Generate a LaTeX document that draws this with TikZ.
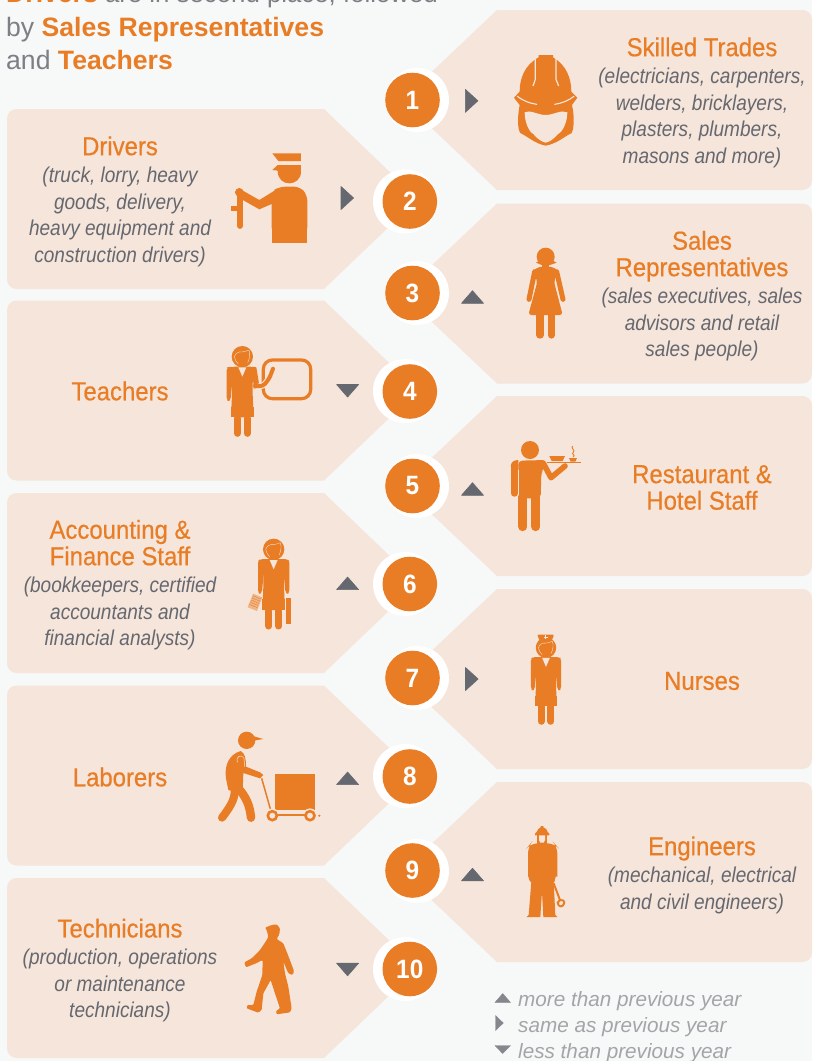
\documentclass[tikz,border=0pt]{standalone}
\usepackage{fontspec}
\setmainfont{Liberation Sans}
\newfontfamily\condt[FakeStretch=0.92,FakeBold=0.5]{Liberation Sans}
\newfontfamily\conds[FakeStretch=0.885]{Liberation Sans}
\newfontfamily\condn[FakeStretch=0.92]{Liberation Sans}
\definecolor{bgc}{HTML}{F7F8F8}
\definecolor{panelc}{HTML}{F5E5DA}
\definecolor{orangec}{HTML}{E97D25}
\definecolor{grayc}{HTML}{666870}
\definecolor{leggray}{HTML}{A3A5A8}
\definecolor{legtri}{HTML}{85878C}
\newcommand{\tl}[1]{{\condt\fontsize{26}{26.5}\selectfont #1}}
\newcommand{\sbl}[1]{{\conds\color{grayc}\itshape\fontsize{21.5}{26.5}\selectfont #1}}
\newcommand{\rpanel}[1]{\fill[panelc] (402,#1+90) -- (497,#1) -- (802,#1) .. controls (808,#1) and (812,#1+4) .. (812,#1+10) -- (812,#1+170) .. controls (812,#1+176) and (808,#1+180) .. (802,#1+180) -- (497,#1+180) -- cycle;}
\newcommand{\lpanel}[1]{\fill[panelc] (418,#1+90) -- (324,#1) -- (17,#1) .. controls (11,#1) and (7,#1+4) .. (7,#1+10) -- (7,#1+170) .. controls (7,#1+176) and (11,#1+180) .. (17,#1+180) -- (324,#1+180) -- cycle;}
\newcommand{\triup}[3][grayc]{\fill[#1,draw=#1,line width=.6pt,line join=round] (#2-11,#3+6.3) -- (#2+11,#3+6.3) -- (#2,#3-6.3) -- cycle;}
\newcommand{\tridn}[3][grayc]{\fill[#1,draw=#1,line width=.6pt,line join=round] (#2-11,#3-6.3) -- (#2+11,#3-6.3) -- (#2,#3+6.3) -- cycle;}
\newcommand{\trirt}[3][grayc]{\fill[#1,draw=#1,line width=.6pt,line join=round] (#2-6.3,#3-11.5) -- (#2-6.3,#3+11.5) -- (#2+6.3,#3) -- cycle;}
% woman without arms; origin = head centre, units = 1/3 px
\newcommand{\womanbody}{%
  \fill[orangec] (0,0) circle (32);
  \draw[panelc,line width=.35pt] (-24,0) .. controls (-20,-12) and (-8,-16) .. (-2,-14) .. controls (6,-14) and (14,-18) .. (20,-20) .. controls (24,-8) and (22,6) .. (16,18);
  \draw[panelc,line width=.35pt] (-24,0) .. controls (-22,10) and (-18,16) .. (-12,22);
  \fill[orangec,rounded corners=4pt] (-36,30) -- (36,30) -- (30,90) -- (34,182) -- (-34,182) -- (-30,90) -- cycle;
  \fill[orangec] (-36,30) rectangle (36,50);
  \fill[orangec] (-34,150) rectangle (34,182);
  \draw[orangec,line width=7pt,line cap=round] (-15,185) -- (-15,230);
  \draw[orangec,line width=7pt,line cap=round] (15,185) -- (15,230);
  \fill[panelc] (-12,32) -- (12,32) -- (0,60) -- cycle;
}
\newcommand{\armleft}{\fill[orangec,rounded corners=2pt] (-47,34) -- (-47,128) -- (-42,136) -- (-35,128) -- (-28,50) -- (-30,30) -- (-42,30) -- cycle;}
\newcommand{\armright}{\fill[orangec,rounded corners=2pt] (47,34) -- (47,128) -- (42,136) -- (35,128) -- (28,50) -- (30,30) -- (42,30) -- cycle;}
\begin{document}
\begin{tikzpicture}[x=1pt,y=-1pt,
  hdr/.style={anchor=base west,inner sep=0pt,font=\fontsize{26.6}{30}\selectfont,text=grayc!85},
  lbl/.style={align=center,inner sep=0pt,text=orangec,font=\conds\fontsize{25}{26.5}\selectfont},
  wring/.style={circle,fill=white,minimum size=64pt,inner sep=0pt},
  num/.style={circle,fill=orangec,minimum size=54.6pt,inner sep=0pt,text=white,font=\condn\bfseries\fontsize{26.5}{27}\selectfont},
  leg/.style={anchor=base west,inner sep=0pt,text=leggray,font=\itshape\fontsize{20.7}{24}\selectfont},
  ic/.style={scale=1/3}]
\clip (0,0) rectangle (812,1061);
\fill[bgc] (0,0) rectangle (812,1061);
% header
\node[hdr] (h1) at (6,2.5) {\textcolor{orangec}{\bfseries Drivers}{\fontsize{25.8}{30}\selectfont\ are in second place, followed}};
\node[hdr] (h2) at (6,36) {by \textcolor{orangec}{\bfseries Sales Representatives}};
\node[hdr] (h3) at (6,69.5) {and \textcolor{orangec}{\bfseries Teachers}};
% panels
\rpanel{10}\rpanel{203.5}\rpanel{396}\rpanel{589}\rpanel{782}
\lpanel{109}\lpanel{300.5}\lpanel{493}\lpanel{685.5}\lpanel{878}
% circles
\node[wring] (w1) at (417,100) {};
\node[wring] (w3) at (417,293) {};
\node[wring] (w5) at (417,486) {};
\node[wring] (w7) at (417,678) {};
\node[wring] (w9) at (417,871) {};
\node[wring] (w2) at (405,201.5) {};
\node[wring] (w4) at (405,391) {};
\node[wring] (w6) at (405,584) {};
\node[wring] (w8) at (405,776) {};
\node[wring] (w10) at (405,969) {};
\node[num] (n1) at (412.5,100) {1};
\node[num] (n3) at (412.5,293) {3};
\node[num] (n5) at (412.5,486) {5};
\node[num] (n7) at (412.5,678) {7};
\node[num] (n9) at (412.5,870.5) {9};
\node[num] (n2) at (409.8,201.5) {2};
\node[num] (n4) at (409.8,391.5) {4};
\node[num] (n6) at (409.8,584) {6};
\node[num] (n8) at (409.8,776.5) {8};
\node[num] (n10) at (409.8,969) {10};
% trend triangles
\trirt{471.6}{100.8}
\trirt{347.3}{198}
\triup{472.5}{297}
\tridn{347.6}{390.8}
\triup{472.5}{489}
\triup{347.6}{583.3}
\trirt{471.8}{679}
\triup{347.6}{778.3}
\triup{472.5}{874.5}
\tridn{347.6}{969.5}
% labels
\node[lbl] (t1) at (702,102.5) {\tl{Skilled Trades}\\[1pt]\sbl{(electricians, carpenters,}\\\sbl{welders, bricklayers,}\\\sbl{plasters, plumbers,}\\\sbl{masons and more)}};
\node[lbl] (t2) at (120,201.5) {\tl{Drivers}\\[1pt]\sbl{(truck, lorry, heavy}\\\sbl{goods, delivery,}\\\sbl{heavy equipment and}\\\sbl{construction drivers)}};
\node[lbl] (t3) at (702,296) {\tl{Sales}\\\tl{Representatives}\\[1pt]\sbl{(sales executives, sales}\\\sbl{advisors and retail}\\\sbl{sales people)}};
\node[lbl] (t4) at (120,391) {\tl{Teachers}};
\node[lbl] (t5) at (702,487.5) {\tl{Restaurant \&}\\\tl{Hotel Staff}};
\node[lbl] (t6) at (120,585) {\tl{Accounting \&}\\\tl{Finance Staff}\\[1pt]\sbl{(bookkeepers, certified}\\\sbl{accountants and}\\\sbl{financial analysts)}};
\node[lbl] (t7) at (702,681) {\tl{Nurses}};
\node[lbl] (t8) at (120,777) {\tl{Laborers}};
\node[lbl] (t9) at (702,875) {\tl{Engineers}\\[1pt]\sbl{(mechanical, electrical}\\\sbl{and civil engineers)}};
\node[lbl] (t10) at (120,970.5) {\tl{Technicians}\\[1pt]\sbl{(production, operations}\\\sbl{or maintenance}\\\sbl{technicians)}};
% legend
\fill[legtri,draw=legtri,line width=.4pt,line join=round] (495,1002.5) -- (510.5,1002.5) -- (502.7,993.5) -- cycle;
\fill[legtri,draw=legtri,line width=.4pt,line join=round] (495.5,1015.5) -- (495.5,1030.5) -- (503.3,1023) -- cycle;
\fill[legtri,draw=legtri,line width=.4pt,line join=round] (495,1045.5) -- (510.5,1045.5) -- (502.7,1053.5) -- cycle;
\node[leg] (l1) at (518,1006) {more than previous year};
\node[leg] (l2) at (518,1032) {same as previous year};
\node[leg] (l3) at (518,1058) {less than previous year};
% ICON skilled trades
\begin{scope}[shift={(508,50)},ic]
  \fill[orangec] (92,15) -- (135,15) -- (135,22) .. controls (175,45) and (190,85) .. (190,125) -- (208,143) -- (192,165) .. controls (200,200) and (198,240) .. (190,250) .. controls (170,258) and (150,280) .. (113,287) .. controls (78,280) and (58,258) .. (38,250) .. controls (28,240) and (28,200) .. (35,165) -- (18,143) -- (35,125) .. controls (35,85) and (50,45) .. (92,22) -- cycle;
  \draw[panelc,line width=1.1pt,line cap=round] (28,139) .. controls (45,152) and (65,160) .. (86,163);
  \draw[panelc,line width=1.1pt,line cap=round] (198,139) .. controls (181,152) and (161,160) .. (140,163);
  \draw[panelc,line width=1.2pt] (82,25) -- (82,88) -- (75,108);
  \draw[panelc,line width=1.2pt] (144,25) -- (144,88) -- (152,108);
  \fill[panelc] (50,187) .. controls (65,178) and (90,195) .. (113,195) .. controls (136,195) and (160,178) .. (178,187) .. controls (178,215) and (165,245) .. (150,252) .. controls (135,270) and (122,276) .. (113,278) .. controls (104,276) and (91,270) .. (76,252) .. controls (62,245) and (50,215) .. (50,187) -- cycle;
\end{scope}
% ICON driver
\begin{scope}[ic]
  \fill[orangec] (817,460) -- (903,460) -- (903,483) -- (835,483) -- cycle;
  \fill[orangec] (817,510) -- (833,495) -- (903,495) -- (903,515) .. controls (903,538) and (885,550) .. (868,550) .. controls (850,550) and (833,538) .. (833,512) -- cycle;
  \fill[orangec,rounded corners=6pt] (815,700) -- (815,575) -- (838,560) -- (900,560) -- (922,585) -- (922,700) -- cycle;
  \fill[orangec] (815,690) rectangle (922,730);
  \fill[orangec] (725,570) -- (778,600) -- (830,568) -- (830,625) -- (815,612) -- (778,628) -- (725,598) -- cycle;
  \fill[orangec] (718,577) circle (13);
  \draw[orangec,line width=6.5pt,line cap=round] (720,585) -- (720,677);
  \draw[orangec,line width=5pt] (694,625) -- (722,625);
\end{scope}
% ICON teacher
\begin{scope}[shift={(200,320)},ic]
  \draw[orangec,line width=3.2pt,rounded corners=9pt] (190,120) rectangle (332,236);
  \begin{scope}[shift={(127,110)}]
    \womanbody
    \armleft
    \fill[orangec] (30,30) -- (42,32) -- (52,92) -- (34,96) -- cycle;
  \end{scope}
  \draw[panelc,line width=6.2pt,line cap=round,rounded corners=3pt] (180,198) -- (190,198) -- (208,175) -- (219,146);
  \draw[orangec,line width=4pt,line cap=round,rounded corners=3pt] (165,198) -- (190,198) -- (208,175) -- (219,146);
\end{scope}
% ICON accountant
\begin{scope}[shift={(200,530)},ic]
  \begin{scope}[shift={(221,58)}]
    \womanbody
    \armleft
    \armright
  \end{scope}
  \fill[orangec] (257,205) rectangle (272,283);
  \begin{scope}[shift={(165,217)},rotate=-22]
    \fill[orangec!45!panelc] (-15,-22) rectangle (15,22);
    \foreach \yy in {-16,-9,...,16} {\draw[orangec,line width=.6pt,dash pattern=on 1.2pt off .6pt] (-13,\yy) -- (13,\yy);}
  \end{scope}
\end{scope}
% ICON nurse
\begin{scope}[shift={(200,530)},ic]
  \begin{scope}[shift={(1038,353)},scale=.96]
    \womanbody
    \armleft
    \armright
  \end{scope}
  \fill[orangec,rounded corners=1pt] (1012,314) -- (1062,314) -- (1056,331) -- (1018,331) -- cycle;
  \draw[panelc,line width=.6pt] (1031,321) -- (1043,321) (1037,316) -- (1037,326);
\end{scope}
% ICON sales rep
\begin{scope}[shift={(500,240)},ic]
  \fill[orangec] (137,50) circle (27);
  \fill[orangec] (108,68) -- (120,60) -- (155,60) -- (170,68) -- (150,75) -- (125,75) -- cycle;
  \fill[orangec] (126,70) rectangle (148,85);
  \fill[orangec,rounded corners=3pt] (99,92) -- (118,80) -- (156,80) -- (175,92) -- (162,125) -- (188,225) -- (85,225) -- (112,125) -- cycle;
  \draw[orangec,line width=5pt,line cap=round] (104,95) -- (87,178);
  \draw[orangec,line width=5pt,line cap=round] (170,95) -- (189,178);
  \draw[orangec,line width=7.3pt,line cap=round] (120,222) -- (120,285);
  \draw[orangec,line width=7.3pt,line cap=round] (154,222) -- (154,285);
\end{scope}
% ICON waiter
\begin{scope}[shift={(200,320)},ic]
  \fill[orangec] (990,390) circle (27);
  \fill[orangec,rounded corners=4pt] (955,422) -- (1040,420) -- (1024,460) -- (1022,535) -- (955,535) -- cycle;
  \draw[orangec,line width=6.8pt,line cap=round] (943,440) -- (943,520);
  \fill[orangec] (933,435) .. controls (933,425) and (945,420) .. (955,420) -- (955,440) -- (933,440) -- cycle;
  \draw[orangec,line width=5.6pt,line cap=round,line join=round] (1030,430) -- (1053,473) -- (1095,438);
  \draw[panelc,line width=.6pt] (955,450) -- (955,528);
  \draw[orangec,line width=9pt,line cap=round] (969,530) -- (969,620);
  \draw[orangec,line width=9pt,line cap=round] (1008,530) -- (1008,620);
  \fill[orangec] (1048,408) -- (1095,408) -- (1088,423) -- (1055,423) -- cycle;
  \fill[orangec] (1107,414) -- (1131,414) -- (1126,425) -- (1112,425) -- cycle;
  \draw[orangec,line width=1.2pt] (1040,428) -- (1142,428);
  \draw[orangec,line width=.9pt] (1118,378) .. controls (1110,385) and (1128,390) .. (1120,397) .. controls (1112,402) and (1128,405) .. (1120,411);
\end{scope}
% ICON laborer
\begin{scope}[shift={(210,725)},ic]
  \fill[orangec] (110,46) circle (26);
  \fill[orangec] (118,30) -- (160,42) -- (125,48) -- cycle;
  \fill[orangec] (48,160) .. controls (42,120) and (58,88) .. (92,78) .. controls (105,85) and (108,100) .. (108,125) -- (150,142) -- (160,150) -- (150,160) -- (100,144) -- (98,205) -- (55,195) -- cycle;
  \draw[panelc,line width=.5pt] (82,112) .. controls (75,95) and (95,85) .. (102,100) -- (104,125);
  \draw[orangec,line width=8pt,line cap=round] (72,180) .. controls (80,215) and (65,240) .. (36,278);
  \draw[orangec,line width=8.5pt,line cap=round] (80,185) .. controls (110,215) and (120,245) .. (123,278);
  \draw[orangec,line width=1.5pt] (155,160) -- (182,255);
  \fill[orangec] (196,146) rectangle (316,256);
  \draw[panelc,fill=panelc] (187,272) circle (21);
  \draw[panelc,fill=panelc] (300,272) circle (21);
  \draw[orangec,line width=2.6pt] (187,272) circle (13.5);
  \draw[orangec,line width=2.6pt] (300,272) circle (13.5);
  \draw[orangec,line width=2.2pt] (205,270) -- (284,270);
  \fill[orangec] (328,272) circle (3.5);
\end{scope}
% ICON engineer
\begin{scope}[shift={(510,820)},ic]
  \fill[orangec] (75,46) -- (75,41) -- (80,36) .. controls (82,28) and (88,24) .. (92,22) -- (92,18) -- (100,18) -- (100,22) .. controls (106,24) and (112,28) .. (113,36) -- (118,41) -- (118,46) -- cycle;
  \fill[orangec] (82,46) rectangle (110,72);
  \fill[panelc] (87,46) -- (105,46) -- (105,60) -- (101,68) -- (91,68) -- (87,60) -- cycle;
  \fill[orangec,rounded corners=7pt] (54,190) -- (54,80) -- (62,70) -- (133,70) -- (142,80) -- (142,190) -- cycle;
  \fill[orangec] (64,185) -- (131,185) -- (136,285) -- (142,291) -- (100,291) -- (96,215) -- (91,291) -- (50,291) -- (56,285) -- cycle;
  \fill[panelc] (50,170) -- (55,170) -- (60,190) -- (50,190) -- cycle;
  \fill[panelc] (144,170) -- (137,170) -- (133,190) -- (144,190) -- cycle;
  \draw[orangec,line width=2pt] (131,190) -- (150,240);
  \draw[orangec,line width=2pt] (162,242) .. controls (165,255) and (155,262) .. (147,258);
  \draw[orangec,line width=2pt] (150,240) -- (162,242) (150,240) -- (143,248) -- (147,258);
\end{scope}
% ICON technician
\begin{scope}[shift={(230,915)},ic]
  \fill[orangec,rounded corners=1pt] (105,38) -- (125,30) -- (140,28) -- (150,40) -- (148,58) -- (140,72) -- (160,85) -- (172,115) -- (192,168) -- (188,180) -- (175,175) -- (160,140) -- (165,175) -- (175,215) -- (185,280) -- (180,292) -- (140,298) -- (138,288) -- (150,280) -- (135,235) -- (122,195) -- (100,235) -- (95,285) -- (85,293) -- (50,280) -- (52,270) -- (70,270) -- (80,230) -- (97,180) -- (98,135) -- (78,145) -- (48,157) -- (43,142) -- (65,130) -- (90,105) -- (110,75) -- (115,65) -- (110,45) -- cycle;
\end{scope}
\end{tikzpicture}
\end{document}
